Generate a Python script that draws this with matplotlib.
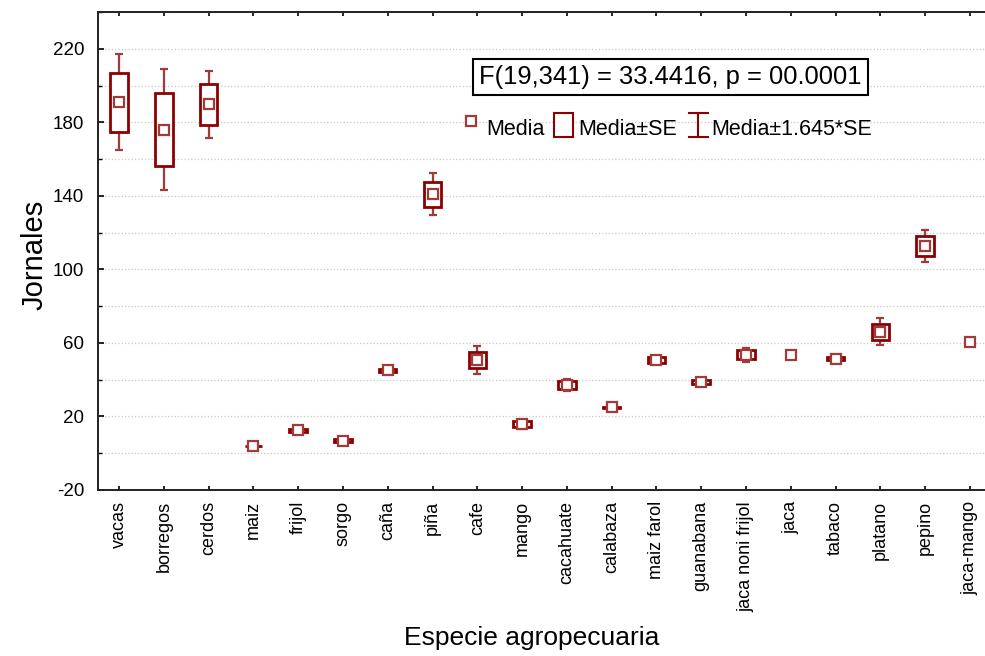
import numpy as np
import matplotlib
matplotlib.use("Agg")
import matplotlib.pyplot as plt
from matplotlib.patches import Rectangle
from matplotlib.ticker import MultipleLocator

plt.rcParams['font.family'] = ['Liberation Sans', 'DejaVu Sans']
plt.rcParams['axes.unicode_minus'] = False

especies = ['vacas', 'borregos', 'cerdos', 'maiz', 'frijol', 'sorgo', 'caña',
            'piña', 'cafe', 'mango', 'cacahuate', 'calabaza', 'maiz farol',
            'guanabana', 'jaca noni frijol', 'jaca', 'tabaco', 'platano',
            'pepino', 'jaca-mango']
media = [191.0, 176.0, 189.7, 4.0, 12.6, 6.7, 45.1, 140.9, 50.7, 15.7,
         37.1, 25.0, 50.7, 38.8, 53.5, 53.3, 51.5, 66.1, 112.6, 60.5]
# error estandar (nan = un solo dato, sin caja)
ee = [16.0, 19.9, 11.2, 0.2, 0.8, 0.8, 0.8, 6.9, 4.5, 1.6,
      2.0, 0.2, 1.4, 1.3, 2.4, np.nan, 0.6, 4.45, 5.3, np.nan]
texto_anova = "F(19,341) = 33.4416, p = 00.0001"

rojo = '#8b0000'
rojo_claro = '#a33a3a'

x = np.arange(len(especies))
media = np.array(media)
ee = np.array(ee)
ok = ~np.isnan(ee)

fig = plt.figure(figsize=(9.85, 6.56), dpi=100)
ax = fig.add_axes([98 / 985, 166 / 656, 892 / 985, 478 / 656])

# bigotes media +- 1.645*SE
ax.errorbar(x[ok], media[ok], yerr=1.645 * ee[ok], fmt='none',
            ecolor=rojo_claro, elinewidth=1.6, capsize=2.9, capthick=1.6,
            zorder=2)
# cajas media +- SE
ax.bar(x[ok], 2 * ee[ok], bottom=media[ok] - ee[ok], width=0.39,
       facecolor='white', edgecolor=rojo, linewidth=2.0, zorder=3)
# medias
ax.plot(x, media, 's', mfc='white', mec=rojo_claro, ms=7, mew=1.6,
        linestyle='none', zorder=4)

ax.set_xlim(-0.47, 19.45)
ax.set_ylim(-20, 240)
ax.yaxis.set_minor_locator(MultipleLocator(20))
ax.set_yticks(np.arange(-20, 221, 40))
ax.set_xticks(x)
ax.set_xticklabels(especies, rotation=90, fontsize=13)
ax.tick_params(axis='y', which='major', direction='in', length=4,
               width=1.2, labelsize=13.5, pad=10)
ax.tick_params(axis='y', which='minor', direction='in', length=3, width=1.0)
ax.tick_params(axis='x', direction='in', length=3, width=1.2, pad=8,
               top=True)
ax.grid(True, which='both', axis='y', linestyle=':', color='#c8c8c8',
        linewidth=0.9)
ax.set_axisbelow(True)
for s in ax.spines.values():
    s.set_linewidth(1.4)
    s.set_color('#222222')
ax.spines['right'].set_visible(False)

ax.set_ylabel('Jornales', fontsize=21)
ax.yaxis.set_label_coords(-0.056, 0.492)
ax.set_xlabel('Especie agropecuaria', fontsize=19)
ax.xaxis.set_label_coords(0.4865, -0.285)

# caja con el resultado del ANOVA
ax.text(0.642, 0.864, texto_anova, transform=ax.transAxes, fontsize=18.4,
        ha='center', va='center', zorder=6,
        bbox=dict(boxstyle='square,pad=0.25', facecolor='white',
                  edgecolor='black', linewidth=1.5))

# leyenda
ty = 0.755
ax.plot([0.418], [0.771], 's', transform=ax.transAxes, mfc='white',
        mec=rojo_claro, ms=7, mew=1.6, clip_on=False, zorder=6)
ax.text(0.435, ty, 'Media', transform=ax.transAxes, fontsize=15.5,
        va='center', ha='left', zorder=6)
ax.add_patch(Rectangle((0.511, 0.738), 0.021, 0.051,
                       transform=ax.transAxes, facecolor='white',
                       edgecolor=rojo, linewidth=1.5, zorder=6))
ax.text(0.538, ty, 'Media±SE', transform=ax.transAxes, fontsize=15.5,
        va='center', ha='left', zorder=6)
ax.plot([0.673, 0.673], [0.738, 0.789], color=rojo, lw=1.5,
        transform=ax.transAxes, zorder=6)
ax.plot([0.662, 0.684], [0.789, 0.789], color=rojo, lw=1.5,
        transform=ax.transAxes, zorder=6)
ax.plot([0.662, 0.684], [0.738, 0.738], color=rojo, lw=1.5,
        transform=ax.transAxes, zorder=6)
ax.text(0.688, ty, 'Media±1.645*SE', transform=ax.transAxes, fontsize=15.5,
        va='center', ha='left', zorder=6)

fig.savefig('out.png', dpi=100)
